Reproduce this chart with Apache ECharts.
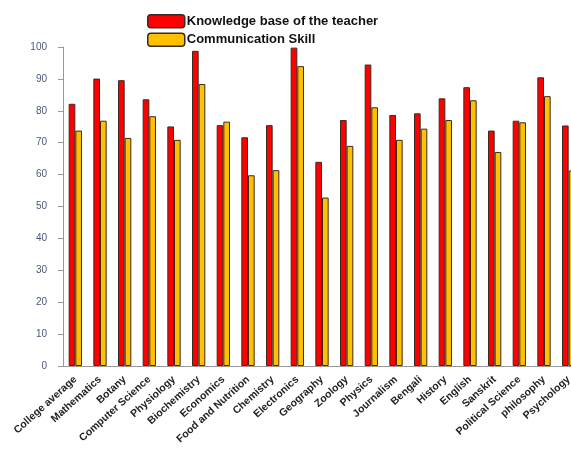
<!DOCTYPE html>
<html>
<head>
<meta charset="utf-8">
<script src="https://cdn.jsdelivr.net/npm/echarts@6/dist/echarts.min.js"></script>
<style>
  html, body { margin: 0; padding: 0; background: #fff; }
  #chart { width: 571px; height: 455px; }
</style>
</head>
<body>
<div id="chart"></div>
<script>
var subjects = [
  "College average", "Mathematics", "Botany", "Computer Science", "Physiology",
  "Biochemistry", "Economics", "Food and Nutrition", "Chemistry", "Electronics",
  "Geography", "Zoology", "Physics", "Journalism", "Bengali",
  "History", "English", "Sanskrit", "Political Science", "philosophy", "Psychology"
];

var knowledge = [82.2, 90.1, 89.6, 83.6, 75.1, 98.8, 75.5, 71.7, 75.5, 99.8,
                 64.0, 77.1, 94.5, 78.7, 79.2, 83.9, 87.4, 73.8, 76.9, 90.5, 75.4];
var communication = [73.8, 76.9, 71.5, 78.3, 70.9, 88.4, 76.6, 59.8, 61.4, 94.0,
                     52.8, 69.0, 81.1, 70.9, 74.4, 77.1, 83.3, 67.1, 76.4, 84.6, 61.3];

var chart = echarts.init(document.getElementById("chart"));

var option = {
  backgroundColor: "#fff",
  animation: false,
  legend: {
    orient: "vertical",
    left: 142,
    top: 9,
    itemWidth: 37,
    itemHeight: 13,
    itemGap: 4,
    icon: "roundRect",
    itemStyle: { borderColor: "#3a2a20", borderWidth: 1.5 },
    textStyle: {
      fontFamily: "Liberation Sans",
      fontWeight: "bold",
      fontSize: 13,
      color: "#111",
      padding: [0, 0, 0, -3]
    },
    data: ["Knowledge base of the teacher", "Communication Skill"]
  },
  grid: {
    left: 63,
    right: -10,
    top: 47,
    bottom: 89,
    outerBoundsMode: "none",
    containLabel: false
  },
  xAxis: {
    type: "category",
    data: subjects,
    axisLine: { lineStyle: { color: "#999" } },
    axisTick: { lineStyle: { color: "#999" } },
    axisLabel: {
      interval: 0,
      rotate: 42,
      fontFamily: "Liberation Sans",
      fontWeight: "bold",
      fontSize: 10.5,
      color: "#222",
      margin: 12
    }
  },
  yAxis: {
    type: "value",
    min: 0,
    max: 100,
    interval: 10,
    axisLine: { show: true, lineStyle: { color: "#999" } },
    axisTick: { show: true, lineStyle: { color: "#999" } },
    splitLine: { show: false },
    axisLabel: {
      fontFamily: "Liberation Sans",
      fontSize: 10,
      color: "#4b5873",
      margin: 16
    }
  },
  series: [
    {
      name: "Knowledge base of the teacher",
      type: "bar",
      data: knowledge,
      barGap: "0%",
      barCategoryGap: "46%",
      itemStyle: { color: "#ff0000", borderColor: "#3a2a20", borderWidth: 1 }
    },
    {
      name: "Communication Skill",
      type: "bar",
      data: communication,
      itemStyle: { color: "#ffc000", borderColor: "#3a2a20", borderWidth: 1 }
    }
  ]
};

chart.setOption(option);
</script>
</body>
</html>
